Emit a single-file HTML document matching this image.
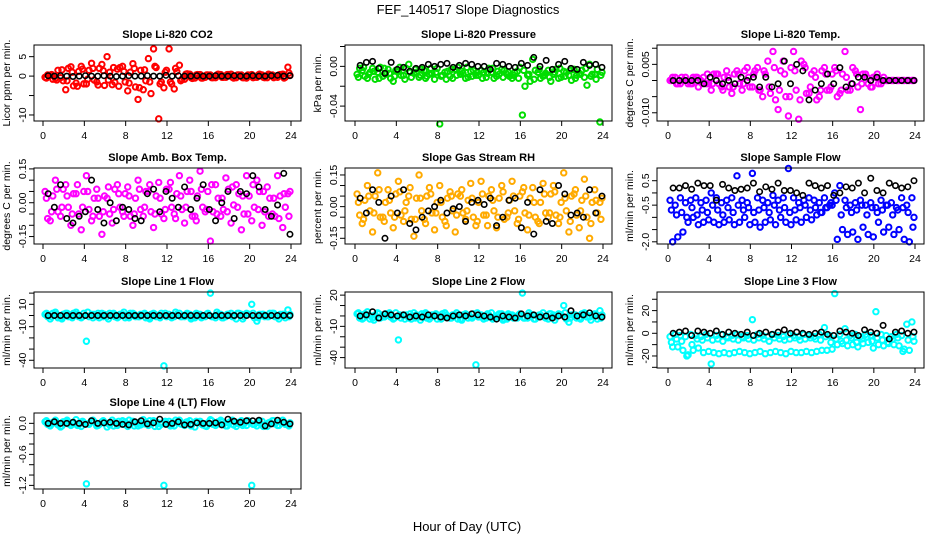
<!DOCTYPE html>
<html><head><meta charset="utf-8"><style>
html,body{margin:0;padding:0;background:#fff}
svg{display:block;font-family:"Liberation Sans",sans-serif}
</style></head><body>
<svg id="chart" width="936" height="540" viewBox="0 0 936 540" xmlns="http://www.w3.org/2000/svg">
<rect x="0" y="0" width="936" height="540" fill="#fff"/>
<text x="468" y="14" font-size="13" text-anchor="middle">FEF_140517  Slope Diagnostics</text>
<text x="467" y="531" font-size="13" text-anchor="middle">Hour of Day (UTC)</text>
</svg>
<script>
const hoursC = [0.2,0.7,1.2,1.7,2.2,2.7,3.2,3.7,4.2,4.7,5.2,5.7,6.2,6.7,7.2,7.7,8.2,8.7,9.2,9.7,10.2,10.7,11.2,11.7,12.2,12.7,13.2,13.7,14.2,14.7,15.2,15.7,16.2,16.7,17.2,17.7,18.2,18.7,19.2,19.7,20.2,20.7,21.2,21.7,22.2,22.7,23.2,23.7];
const hoursC2 = [0.45,0.95,1.45,1.95,2.45,2.95,3.45,3.95,4.45,4.95,5.45,5.95,6.45,6.95,7.45,7.95,8.45,8.95,9.45,9.95,10.45,10.95,11.45,11.95,12.45,12.95,13.45,13.95,14.45,14.95,15.45,15.95,16.45,16.95,17.45,17.95,18.45,18.95,19.45,19.95,20.45,20.95,21.45,21.95,22.45,22.95,23.45,23.9];
const hoursC3 = [0.33,0.83,1.33,1.83,2.33,2.83,3.33,3.83,4.33,4.83,5.33,5.83,6.33,6.83,7.33,7.83,8.33,8.83,9.33,9.83,10.33,10.83,11.33,11.83,12.33,12.83,13.33,13.83,14.33,14.83,15.33,15.83,16.33,16.83,17.33,17.83,18.33,18.83,19.33,19.83,20.33,20.83,21.33,21.83,22.33,22.83,23.33,23.8];
const hoursB = [0.5,1.1,1.7,2.3,2.9,3.5,4.1,4.7,5.3,5.9,6.5,7.1,7.7,8.3,8.9,9.5,10.1,10.7,11.3,11.9,12.5,13.1,13.7,14.3,14.9,15.5,16.1,16.7,17.3,17.9,18.5,19.1,19.7,20.3,20.9,21.5,22.1,22.7,23.3,23.9];
const xTicks = [0,4,8,12,16,20,24];

const titles = ["Slope Li-820 CO2","Slope Li-820 Pressure","Slope Li-820 Temp.","Slope Amb. Box Temp.","Slope Gas Stream RH","Slope Sample Flow","Slope Line 1 Flow","Slope Line 2 Flow","Slope Line 3 Flow","Slope Line 4 (LT) Flow"];
const yTitles = ["Licor ppm per min.","kPa per min.","degrees C per min.","degrees C per min.","percent per min.","ml/min per min.","ml/min per min.","ml/min per min.","ml/min per min.","ml/min per min."];
const colors = ["#ff0000","#00dd00","#ff00ff","#ff00ff","#ffaa00","#0000ff","#00ffff","#00ffff","#00ffff","#00ffff"];
const yLims = [[-11.55,8.0],[-0.055,0.0215],[-0.01255,0.011],[-0.183,0.154],[-0.177,0.183],[-2.09,1.02],[-46.9,21],[-50,23],[-30.6,36.4],[-1.27,0.2]];
const yTicks = [[5,0,-5,-10],[0.02,0,-0.02,-0.04],[0.01,0.005,0,-0.005,-0.01],[0.15,0.1,0.05,0,-0.05,-0.1,-0.15],[0.15,0.1,0.05,0,-0.05,-0.1,-0.15],[0.5,0,-0.5,-1,-1.5,-2],[20,10,0,-10,-20,-30,-40],[20,10,0,-10,-20,-30,-40],[30,20,10,0,-10,-20,-30],[0,-0.2,-0.4,-0.6,-0.8,-1,-1.2]];
const yTickLabels = [["5","0","","-10"],["","0.00","","-0.04"],["","0.005","","","-0.010"],["0.15","","","0.00","","","-0.15"],["0.15","","","0.00","","","-0.15"],["0.5","","-0.5","","","-2.0"],["","10","","-10","","","-40"],["20","","","-10","","","-40"],["","20","","0","","-20",""],["0.0","","","-0.6","","","-1.2"]];

const co2A = [-0.3,0.2,-0.6,-0.4,-3.5,2.4,-1.8,2.5,-2.0,3.3,-1.5,3.0,5.0,-2.2,1.8,2.5,-3.8,3.2,-6.0,-3.5,4.5,7.0,-11.0,-3.0,7.0,-3.3,2.8,-0.8,0.5,-0.5,0.4,-0.3,0.3,-0.4,0.4,-0.3,0.5,-0.4,0.3,-0.5,0.4,-0.3,0.3,-0.4,0.3,-0.3,0.5,2.3];
const co2B = [0.3,-0.8,1.5,-1.2,2.0,-2.5,1.2,-2.0,1.5,-1.0,2.0,-2.4,1.0,-1.6,2.2,-1.5,1.0,-2.8,1.5,-1.2,-4.5,2.2,-1.5,1.5,-2.0,1.2,-0.8,0.6,-0.6,0.4,-0.5,0.3,-0.4,0.5,-0.3,0.4,-0.5,0.3,-0.4,0.2,-0.3,0.5,-0.4,0.3,-0.2,0.4,-0.3,0.2];
const co2C = [-0.5,0.4,-1.0,1.6,-1.2,1.0,-2.6,1.8,-0.8,2.0,-2.3,1.4,-1.0,2.2,-2.6,1.2,-1.8,2.0,-3.0,1.6,-1.5,2.5,-2.0,1.0,-1.5,2.0,-1.2,0.5,-0.4,0.3,-0.5,0.3,-0.4,0.3,-0.3,0.4,-0.3,0.3,-0.4,0.3,-0.4,0.3,-0.3,0.5,-0.4,0.3,-0.5,0.8];
const co2Black = [0.1,0,0.1,0,-0.1,0,0.1,0,0,0.1,0,-0.1,0,0.1,0,0,0.1,0,0,0.2,0,0.1,0,0,0.1,0,0,0.1,0,0,0.1,0,0,0.1,0,0,0.1,0.2,0,0.1];

const presA = [-0.008,-0.004,-0.012,-0.002,-0.006,-0.010,-0.003,-0.015,-0.005,-0.009,0.002,-0.007,-0.011,-0.004,-0.008,-0.013,-0.058,-0.006,-0.010,-0.003,-0.008,-0.012,-0.005,-0.009,-0.004,-0.011,-0.006,-0.010,-0.003,-0.008,-0.012,-0.005,-0.049,-0.009,0.007,-0.006,-0.010,-0.004,-0.008,-0.012,-0.005,-0.009,-0.003,-0.007,-0.011,0.002,-0.008,-0.056];
const presB = [-0.002,-0.010,-0.006,-0.013,-0.001,-0.008,-0.012,-0.004,-0.009,-0.002,-0.011,-0.006,-0.003,-0.010,-0.007,-0.002,-0.009,-0.005,-0.012,-0.001,-0.007,-0.011,-0.004,-0.009,-0.006,-0.002,-0.012,-0.008,-0.004,-0.010,-0.006,-0.001,-0.020,-0.015,-0.004,-0.012,-0.007,-0.015,-0.003,-0.011,-0.006,-0.014,-0.009,-0.004,-0.019,-0.008,-0.003,-0.006];
const presC = [-0.011,-0.001,-0.008,-0.005,-0.012,-0.002,-0.007,-0.010,-0.001,-0.013,-0.006,-0.003,-0.009,-0.012,-0.002,-0.006,-0.010,-0.013,-0.003,-0.009,-0.005,-0.001,-0.010,-0.006,-0.012,-0.007,-0.002,-0.005,-0.011,-0.006,-0.009,-0.012,-0.004,-0.008,-0.013,-0.003,-0.009,-0.011,-0.006,-0.002,-0.010,-0.004,-0.012,-0.008,-0.002,-0.010,-0.013,-0.009];
const presBlack = [0.001,0.004,0.005,-0.002,-0.007,0.004,-0.003,-0.001,-0.005,-0.002,-0.001,0.002,0.000,0.002,0.003,-0.001,0.001,0.003,0.002,0.000,0.000,-0.003,0.003,0.002,0.000,-0.001,0.003,0.001,0.009,0.000,0.006,-0.003,0.002,0.005,-0.002,-0.003,0.004,0.001,0.002,-0.001];

const tempA = [0,0.001,-0.001,0.001,-0.001,0.001,0,-0.001,-0.003,0.002,-0.002,0.003,-0.004,0.003,-0.003,0.004,-0.002,0.004,-0.005,0.006,0.009,-0.009,0.006,-0.011,0.009,-0.012,0.005,-0.004,0.003,-0.005,0.004,-0.003,0.004,-0.004,0.009,-0.003,0.003,-0.009,0.002,-0.002,0.001,-0.001,0,0,0,0,0,0];
const tempB = [0.001,-0.001,0,-0.001,0.001,-0.002,0.001,-0.001,0.002,-0.001,0.001,-0.002,0.002,-0.001,0.003,-0.002,0.003,-0.003,0.002,-0.004,-0.006,0.003,-0.005,0.004,-0.003,0.006,-0.004,0.002,-0.006,0.003,-0.003,0.002,-0.005,0.002,-0.003,0.004,-0.002,0.002,-0.001,0.001,-0.001,0.001,0,0,0,0,0,0];
const tempC = [0,-0.001,0.001,0,-0.001,0.001,-0.001,0.002,-0.001,0.002,-0.003,0.001,-0.002,0.002,-0.001,0.001,0.002,-0.003,0.003,-0.002,0.004,-0.003,0.002,-0.005,0.003,-0.006,0.004,-0.002,0.001,-0.003,0.002,-0.002,0.003,-0.003,0.001,-0.001,0.002,-0.001,0.001,-0.002,0.002,0,0,0,0,0,0,0];
const tempBlack = [0,0,0,0,0,-0.001,0.001,0,-0.001,0,-0.001,0.001,0,0.001,-0.002,0.001,-0.002,-0.001,0.006,-0.001,0.005,0.003,-0.006,-0.003,-0.001,0.002,-0.001,0.004,-0.002,-0.001,0.001,0.001,0,0.001,0,0,0,0,0,0];

const boxA = [0.05,-0.08,0.10,-0.06,0.08,-0.10,0.04,-0.12,0.12,-0.08,0.06,-0.14,0.02,-0.09,0.08,-0.04,0.07,-0.10,0.10,-0.06,0.05,-0.11,0.09,-0.07,0.06,-0.05,0.12,-0.09,0.10,-0.06,0.14,-0.04,-0.17,0.08,-0.06,0.11,-0.09,0.08,-0.12,0.12,-0.08,0.10,-0.10,0.07,-0.05,0.12,-0.11,0.04];
const boxB = [-0.07,0.03,-0.04,0.06,-0.02,0.04,-0.05,0.05,-0.03,0.02,-0.06,0.03,-0.05,0.06,-0.02,0.04,-0.06,0.02,-0.03,0.05,-0.04,0.03,-0.05,0.06,-0.02,0.04,-0.03,0.05,-0.06,0.03,-0.02,0.05,-0.04,0.02,-0.03,0.06,-0.01,0.04,-0.05,0.03,-0.02,0.05,-0.04,0.02,-0.06,0.03,-0.02,0.05];
const boxC = [0.02,-0.04,0.06,-0.02,0.03,-0.05,0.08,-0.02,0.05,-0.06,0.02,-0.04,0.07,-0.03,0.04,-0.06,0.03,-0.05,0.06,-0.02,0.08,-0.05,0.02,-0.03,0.09,-0.07,0.03,-0.02,0.05,-0.08,0.06,-0.03,0.08,-0.05,0.02,-0.04,0.07,-0.02,0.03,-0.05,0.08,-0.03,0.05,-0.06,0.02,-0.07,0.04,-0.06];
const boxBlack = [0.04,-0.02,0.08,-0.07,-0.09,-0.06,-0.04,0.1,-0.03,-0.09,0.0,-0.08,-0.02,-0.03,-0.07,-0.08,0.04,0.06,-0.04,0.05,0.02,-0.02,0.07,-0.03,0.02,0.08,-0.03,-0.08,0.0,0.05,-0.07,0.05,0.04,0.12,0.07,-0.03,-0.06,-0.01,0.13,-0.14];

const rhA = [0.06,-0.08,0.1,-0.12,0.16,-0.05,0.08,-0.1,0.12,-0.07,0.05,-0.14,0.15,-0.06,0.09,-0.11,0.1,-0.07,0.07,-0.12,0.05,-0.06,0.11,-0.09,0.12,-0.04,0.08,-0.1,0.1,-0.05,0.12,-0.08,0.07,-0.11,0.09,-0.07,0.11,-0.05,0.1,-0.08,0.16,-0.12,0.06,-0.1,0.13,-0.15,0.08,0.02];
const rhB = [-0.04,0.03,-0.02,0.05,-0.05,0.02,-0.03,0.06,-0.04,0.02,-0.06,0.04,-0.02,0.05,-0.03,0.02,-0.05,0.04,-0.02,0.06,-0.03,0.03,-0.05,0.02,-0.04,0.05,-0.02,0.04,-0.06,0.03,-0.02,0.05,-0.03,0.04,-0.05,0.02,-0.03,0.06,-0.04,0.02,-0.02,0.05,-0.04,0.03,-0.05,0.02,-0.03,0.04];
const rhC = [0.02,-0.06,0.05,-0.03,0.08,-0.07,0.03,-0.05,0.07,-0.02,0.09,-0.06,0.04,-0.08,0.06,-0.03,0.02,-0.09,0.05,-0.04,0.08,-0.02,0.04,-0.07,0.06,-0.09,0.03,-0.05,0.07,-0.03,0.05,-0.06,0.09,-0.04,0.02,-0.08,0.06,-0.03,0.07,-0.05,0.04,-0.07,0.08,-0.02,0.05,-0.08,0.03,-0.06];
const rhBlack = [0.04,-0.03,0.08,0.02,-0.15,0.05,-0.03,0.08,-0.08,-0.11,-0.05,-0.02,0.0,0.03,-0.03,-0.01,0.0,-0.07,0.02,0.03,0.01,0.04,-0.09,-0.05,0.03,0.04,-0.1,0.02,-0.13,0.08,-0.07,-0.08,0.1,0.06,-0.04,-0.03,-0.05,0.08,-0.03,0.05];

const flowA = [-0.3,-0.5,-0.2,-0.4,-0.3,-0.2,-0.4,-0.3,0.0,-0.2,-0.4,-0.3,-0.2,0.7,-0.3,-0.4,0.8,-0.2,-0.3,-0.4,-0.1,-0.3,-0.2,1.0,-0.2,-0.4,-0.3,-0.2,-0.3,-0.4,-0.2,-0.5,0.0,0.3,-0.3,-0.5,-0.4,-0.3,-0.5,-0.4,-0.6,-0.3,-0.5,-0.4,-0.6,-0.2,-0.5,-0.2];
const flowB = [-2.0,-1.8,-1.6,-1.2,-1.0,-1.3,-1.2,-1.1,-1.2,-1.3,-1.2,-1.1,-1.3,-1.2,-1.0,-1.3,-1.2,-1.4,-1.2,-1.1,-1.3,-1.0,-1.2,-1.3,-1.1,-1.2,-1.0,-1.1,-0.9,-0.8,-0.6,-0.5,-1.9,-1.5,-1.7,-1.6,-1.9,-1.4,-1.7,-1.8,-1.2,-1.6,-1.4,-1.7,-1.5,-1.9,-2.0,-1.0];
const flowC = [-0.7,-0.9,-0.8,-1.0,-0.6,-0.9,-0.7,-0.8,-0.5,-0.7,-0.9,-0.6,-0.8,-0.5,-0.7,-0.6,-0.8,-0.7,-0.6,-0.8,-0.5,-0.7,-0.6,-0.8,-0.7,-0.6,-0.5,-0.7,-0.6,-0.8,-0.6,-0.4,-0.3,-0.9,-0.6,-0.8,-0.7,-0.5,-0.9,-0.6,-0.8,-0.7,-0.5,-0.9,-0.7,-0.6,-0.8,-1.4];
const flowBlack = [0.2,0.2,0.3,0.15,0.4,0.3,0.3,-0.3,0.35,0.2,0.1,0.15,0.2,0.4,0.05,0.25,0.15,0.4,0.1,0.1,0.0,-0.1,0.4,0.3,0.2,0.3,-0.1,0.0,0.25,0.2,0.4,0.0,0.6,0.1,0.0,0.4,0.3,0.2,0.25,0.5];

const line1A = [1,-3,3,-2,2,-1,3,-2,-23,1,-1,2,-1,1,-2,1,-1,2,-1,1,-2,2,-1,-45,1,-1,2,-1,1,-2,1,-1,20,-2,1,-1,2,-3,1,2,10,-5,1,-1,2,-1,1,5];
const line1B = [-1,2,-2,1,-1,2,-1,2,-1,1,-2,1,2,-1,1,-2,2,-1,1,-2,1,-1,2,-1,-2,1,-1,2,-2,1,-1,2,-1,1,-2,1,-1,2,-1,1,-2,1,-1,2,-1,1,-2,1];
const line1C = [2,-1,1,-3,2,-2,1,-1,3,-2,2,-1,-3,2,-1,3,-2,1,-1,2,-3,1,-2,2,-1,3,-1,1,-3,2,-2,1,-1,3,-2,1,-1,2,-3,1,2,-2,1,-1,2,-3,1,-1];
const line1Black = [0,0,0,0,0,0,0,0,0,0,0,0,0,0,0,0,0,0,0,0,0,0,0,0,0,0,0,0,0,0,0,0,0,0,0,0,0,0,0,0];

const line2A = [2,-3,4,-2,3,-1,2,-3,-23,1,-2,3,-1,2,-3,1,-1,3,-2,1,-3,2,-1,-47,1,-2,3,-1,2,-3,1,-2,22,-2,1,-1,3,-3,1,2,10,-6,1,-2,3,-1,2,5];
const line2B = [-2,2,-3,1,-2,2,-1,3,-2,1,-3,1,2,-2,1,-3,2,-1,1,-3,1,-2,2,-1,-3,1,-2,2,-3,1,-1,2,-2,1,-3,1,-2,2,-1,1,-3,1,-2,2,-1,1,-3,1];
const line2C = [3,-2,1,-4,2,-1,3,-2,1,-3,2,-2,-4,3,-1,2,-3,1,-2,3,-4,1,-2,3,-1,2,-3,1,-4,2,-2,1,-2,3,-3,1,-1,2,-4,1,3,-2,1,-3,2,-4,1,-2];
const line2Black = [0,1,4,-2,2,1,0,1,-1,0,-1,1,0,-1,-2,0,1,0,2,1,0,-1,-3,0,-1,-2,2,0,1,-1,0,-2,0,-1,5,0,1,3,0,-1];

const line3A = [-3,-1,-2,-3,-1,-2,-3,-1,-27,-2,-1,-3,-2,-1,-3,-2,12,-1,-2,-3,-1,-2,-3,-1,-2,-3,-1,-2,-3,-1,5,-2,35,-1,4,-2,-1,-3,-1,-2,19,-1,-2,-3,-1,-2,8,10];
const line3B = [-12,-12,-15,-19,-15,-13,-17,-16,-17,-18,-17,-18,-17,-16,-17,-18,-17,-16,-18,-17,-16,-17,-18,-16,-17,-17,-16,-17,-16,-15,-15,-14,-10,-9,-11,-10,-12,-9,-8,-13,-10,-11,-9,-10,-11,-14,-15,-7];
const line3C = [-8,-5,-7,-20,-10,-5,-6,-4,-6,-5,-7,-4,-5,-6,-4,-5,-6,-4,-5,-7,-4,-5,-6,-5,-4,-6,-5,-4,-5,-6,-3,-8,-5,-7,-6,-4,-8,-5,-3,-7,-4,-6,-8,-5,-4,-16,-6,-3];
const line3Black = [0,1,2,-2,2,1,0,2,-1,1,0,-1,1,-2,0,1,-1,1,3,0,1,0,-1,0,1,-1,-2,2,1,0,-2,3,1,0,7,-5,1,2,0,1];

const line4A = [0.03,-0.05,0.06,-0.07,0.04,-0.04,0.07,-0.06,-1.17,0.05,-0.05,0.03,-0.07,0.06,-0.04,0.05,-0.06,0.04,-0.05,0.07,-0.04,0.05,-0.06,-1.2,0.04,-0.05,0.06,-0.04,0.05,-0.07,0.04,-0.05,0.07,-0.04,0.06,-0.05,0.04,-0.06,0.05,-0.04,-1.2,-0.05,0.04,-0.06,0.05,-0.04,0.06,-0.03];
const line4B = [-0.02,0.02,-0.03,0.03,-0.01,0.02,-0.03,0.01,-0.02,0.03,-0.02,0.01,-0.03,0.02,-0.01,0.03,-0.02,0.01,-0.03,0.02,-0.01,0.03,-0.02,0.01,-0.03,0.02,-0.02,0.03,-0.01,0.02,-0.03,0.01,-0.02,0.03,-0.02,0.01,-0.03,0.02,-0.01,0.03,-0.02,0.01,-0.03,0.02,-0.01,0.03,-0.02,0.01];
const line4C = [0.05,-0.01,0.02,-0.05,0.06,0.0,-0.04,0.04,-0.01,0.06,-0.04,0.05,0.0,-0.05,0.04,-0.02,0.06,-0.05,0.02,-0.01,0.05,-0.06,0.0,0.04,-0.05,0.06,-0.01,0.02,-0.05,0.04,0.0,-0.06,0.05,-0.01,0.03,-0.05,0.06,0.0,-0.04,0.05,-0.02,0.04,-0.06,0.01,0.05,-0.04,0.02,-0.05];
const line4Black = [0,0.03,0,0,0.02,0,-0.02,0.05,0,0.01,0.02,0,-0.02,-0.03,0.03,0.05,-0.01,0.01,0.08,-0.02,0,0.03,-0.03,-0.02,0.01,0,0,0.01,-0.03,0.08,0.04,0.02,0.05,0.05,0.06,-0.05,-0.01,0.06,0.02,-0.01];

const coloredSeries = [[co2A,co2B,co2C],[presA,presB,presC],[tempA,tempB,tempC],[boxA,boxB,boxC],[rhA,rhB,rhC],[flowA,flowB,flowC],[line1A,line1B,line1C],[line2A,line2B,line2C],[line3A,line3B,line3C],[line4A,line4B,line4C]];
const blackSeries = [co2Black,presBlack,tempBlack,boxBlack,rhBlack,flowBlack,line1Black,line2Black,line3Black,line4Black];
const seriesHours = [hoursC,hoursC2,hoursC3];

const NS = "http://www.w3.org/2000/svg";
const svg = document.getElementById('chart');
const colGeom = [{l:34,r:301,x0:43,x1:291},{l:345,r:612,x0:355,x1:603},{l:657,r:924,x0:668,x1:915}];
const rowTop = [45,168,292,413];
const boxH = 76;
function mk(tag, attrs, parent){const e=document.createElementNS(NS,tag);for(const k in attrs)e.setAttribute(k,attrs[k]);(parent||svg).appendChild(e);return e;}

titles.forEach((title, p) => {
  const c = colGeom[p % 3], top = rowTop[Math.floor(p / 3)], bot = top + boxH;
  const [lo, hi] = yLims[p];
  const xs = h => c.x0 + (h / 24) * (c.x1 - c.x0);
  const ys = v => bot - (v - lo) / (hi - lo) * boxH;
  const g = mk('g', {});
  
  
  const t = mk('text', {x:(c.l+c.r)/2, y:top-7, 'font-size':11, 'font-weight':'bold', 'text-anchor':'middle'}, g);
  t.textContent = title;
  
  
  const yt = mk('text', {x:0, y:0, 'font-size':10.5, 'text-anchor':'middle', transform:`translate(${c.l-24},${top+boxH/2}) rotate(-90)`}, g);
  yt.textContent = yTitles[p];
  
  
  const pts = mk('g', {}, g);
  
  
  coloredSeries[p].forEach((arr, si) => {
    const hrs = seriesHours[si % 3];
    arr.forEach((v, i) => {
      const cc = mk('circle', {cx:xs(hrs[i]), cy:ys(v), r:2.7, fill:'none', stroke:colors[p], 'stroke-width':2}, pts);
      
      
    });
  });
  const bp = mk('g', {}, g);
  
  
  blackSeries[p].forEach((v, i) => {
    const cc = mk('circle', {cx:xs(hoursB[i]), cy:ys(v), r:2.7, fill:'none', stroke:'#000', 'stroke-width':1.6}, bp);
    
    
  });
  const box = mk('rect', {x:c.l, y:top, width:c.r-c.l, height:boxH, fill:'none', stroke:'#000', 'stroke-width':1}, g);
  
  
  xTicks.forEach(h => {
    const x = xs(h);
    mk('line', {x1:x, x2:x, y1:bot, y2:bot+5, stroke:'#000'}, g);
    const tl = mk('text', {x:x, y:bot+18, 'font-size':10.5, 'text-anchor':'middle'}, g);
    tl.textContent = h;
    
    
  });
  yTicks[p].forEach((v, i) => {
    const y = ys(v);
    mk('line', {x1:c.l-5, x2:c.l, y1:y, y2:y, stroke:'#000'}, g);
    if (yTickLabels[p][i]) {
      const tl = mk('text', {x:0, y:0, 'font-size':10.5, 'text-anchor':'middle', transform:`translate(${c.l-8},${y}) rotate(-90)`}, g);
      tl.textContent = yTickLabels[p][i];
      
      
    }
  });
});
</script>
</body></html>
